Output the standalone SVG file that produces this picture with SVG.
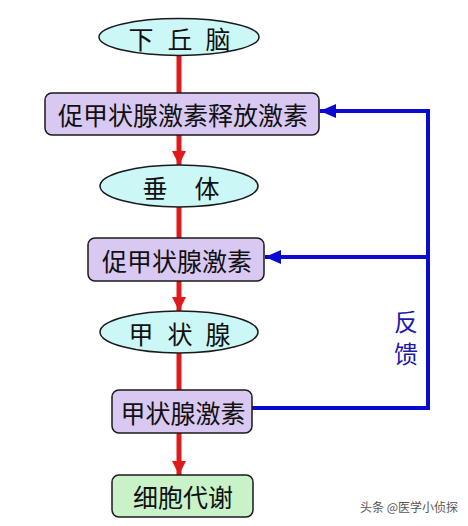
<svg xmlns="http://www.w3.org/2000/svg" width="468" height="526" viewBox="0 0 468 526">
<style>
.ell{fill:#ccf7f7;stroke:#1a1a1a;stroke-width:1.5}
.box{fill:#d9c9f2;stroke:#1a1a1a;stroke-width:1.5}
.grn{fill:#c9f2c9;stroke:#1a1a1a;stroke-width:1.5}
.t{font-family:"Noto Sans CJK SC","Noto Sans",sans-serif;font-size:25px;fill:#111;text-anchor:middle;dominant-baseline:central}
.red{stroke:#e01a1a;stroke-width:5;fill:none}
.blue{stroke:#0a0ad0;stroke-width:4;fill:none}
.fb{font-family:"Noto Sans CJK SC",sans-serif;font-size:24px;fill:#1a1aa8;text-anchor:middle;dominant-baseline:central}
</style>
<defs>
<marker id="ra" markerWidth="14" markerHeight="14" refX="14" refY="7" orient="auto" markerUnits="userSpaceOnUse"><path d="M0,0 L14,7 L0,14 Z" fill="#e01a1a"/></marker>
<marker id="ba" markerWidth="16" markerHeight="14" refX="16" refY="7" orient="auto" markerUnits="userSpaceOnUse"><path d="M0,0 L16,7 L0,14 Z" fill="#0a0ad0"/></marker>
</defs>
<rect width="468" height="526" fill="#fff"/>
<g id="connectors">
<line class="red" x1="179" y1="55" x2="179" y2="93"/>
<line class="red" x1="179" y1="135" x2="179" y2="165" marker-end="url(#ra)"/>
<line class="red" x1="179" y1="207" x2="179" y2="238"/>
<line class="red" x1="179" y1="281" x2="179" y2="311" marker-end="url(#ra)"/>
<line class="red" x1="179" y1="353" x2="179" y2="390"/>
<line class="red" x1="179" y1="433" x2="179" y2="475" marker-end="url(#ra)"/>
<polyline class="blue" points="252,408 428,408 428,111 320,111" marker-end="url(#ba)"/>
<line class="blue" x1="428" y1="257" x2="265" y2="257" marker-end="url(#ba)"/>
<text class="fb" x="406" y="320">反</text>
<text class="fb" x="406" y="352">馈</text>
</g>
<g id="hypothalamus"><ellipse class="ell" cx="179" cy="37" rx="80" ry="18.5"/><text class="t" x="141" y="38">下</text><text class="t" x="180" y="38">丘</text><text class="t" x="218" y="38">脑</text></g>
<g id="trh"><rect class="box" x="45" y="93" width="274" height="42" rx="7"/><text class="t" x="183" y="114">促甲状腺激素释放激素</text></g>
<g id="pituitary"><ellipse class="ell" cx="179" cy="186" rx="79" ry="21"/><text class="t" x="155" y="187">垂</text><text class="t" x="207" y="187">体</text></g>
<g id="tsh"><rect class="box" x="88" y="238" width="176" height="43" rx="7"/><text class="t" x="177" y="259.5">促甲状腺激素</text></g>
<g id="thyroid"><ellipse class="ell" cx="179" cy="332" rx="79" ry="21"/><text class="t" x="141" y="333">甲</text><text class="t" x="180" y="333">状</text><text class="t" x="218" y="333">腺</text></g>
<g id="th"><rect class="box" x="112" y="390" width="140" height="43" rx="7"/><text class="t" x="183" y="411.5">甲状腺激素</text></g>
<g id="metabolism"><rect class="grn" x="112" y="475" width="141" height="42" rx="7"/><text class="t" x="183" y="496">细胞代谢</text></g>
<text x="458" y="506" style="font-family:'Noto Sans CJK SC',sans-serif;font-size:12px;fill:#555;text-anchor:end;dominant-baseline:central">头条 @医学小侦探</text>
</svg>
